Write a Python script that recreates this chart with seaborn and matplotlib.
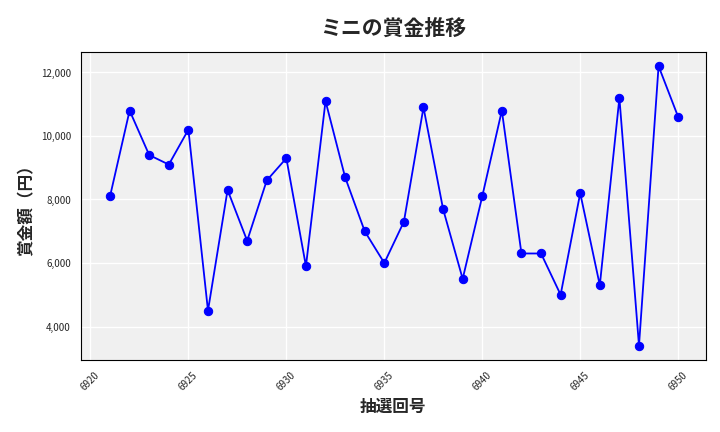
import matplotlib
matplotlib.use("Agg")
import matplotlib.pyplot as plt
import seaborn as sns
import pandas as pd
from matplotlib.ticker import FuncFormatter

draws = list(range(6921, 6951))
prizes = [8100, 10800, 9400, 9100, 10200, 4500, 8300, 6700, 8600, 9300,
          5900, 11100, 8700, 7000, 6000, 7300, 10900, 7700, 5500, 8100,
          10800, 6300, 6300, 5000, 8200, 5300, 11200, 3400, 12200, 10600]

sns.set_style("whitegrid")
plt.rcParams['font.family'] = ['Noto Sans CJK JP', 'DejaVu Sans']

df = pd.DataFrame({"draw": draws, "prize": prizes})
fig, ax = plt.subplots(figsize=(7.2, 4.32), dpi=100)
ax.set_facecolor("#f0f0f0")
sns.lineplot(data=df, x="draw", y="prize", ax=ax, color="blue", marker="o",
             markersize=6, markeredgecolor="blue", linewidth=1.3)
ax.grid(True, color="white", linewidth=1)
for s in ax.spines.values():
    s.set_color("black"); s.set_linewidth(0.8)
ax.set_title("ミニの賞金推移", fontsize=15, fontweight="bold", pad=12)
ax.set_xlabel("抽選回号", fontsize=12, fontweight="bold")
ax.set_ylabel("賞金額（円）", fontsize=12, fontweight="bold")
ax.yaxis.set_major_formatter(FuncFormatter(lambda v, p: f"{int(v):,}"))
ax.set_xticks(range(6920, 6951, 5))
ax.tick_params(axis="x", labelsize=7, rotation=45)
ax.tick_params(axis="y", labelsize=7)
ax.set_ylim(2950, 12650)
ax.set_xlim(6919.5, 6951.4)
fig.subplots_adjust(left=0.112, right=0.98, top=0.88, bottom=0.167)
fig.savefig("out.png")
